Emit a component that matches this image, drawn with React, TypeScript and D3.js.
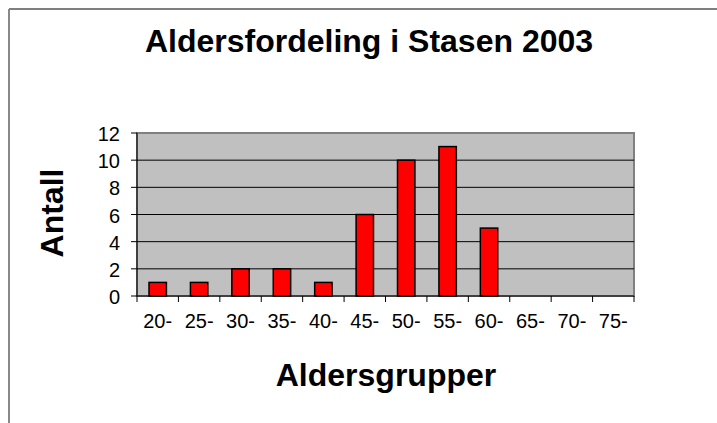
import React, { useEffect, useRef } from 'react';
import * as d3 from 'd3';

const categories = ['20-', '25-', '30-', '35-', '40-', '45-', '50-', '55-', '60-', '65-', '70-', '75-'];
const counts = [1, 1, 2, 2, 1, 6, 10, 11, 5, 0, 0, 0];
const yTicks = [0, 2, 4, 6, 8, 10, 12];

const title = 'Aldersfordeling i Stasen 2003';
const xTitle = 'Aldersgrupper';
const yTitle = 'Antall';

const App: React.FC = () => {
  const svgRef = useRef<SVGSVGElement | null>(null);

  useEffect(() => {
    if (!svgRef.current) return;
    const svg = d3.select(svgRef.current);
    svg.selectAll('*').remove();

    const width = 717;
    const height = 423;
    const plot = { left: 137, right: 634, top: 133, bottom: 296 };
    const font = 'Arial, "Liberation Sans", sans-serif';

    // outer chart frame (only top and left edges are visible)
    svg.append('line')
      .attr('x1', 9).attr('x2', width).attr('y1', 9).attr('y2', 9)
      .attr('stroke', '#555').attr('stroke-width', 1.5);
    svg.append('line')
      .attr('x1', 9).attr('x2', 9).attr('y1', 9).attr('y2', height)
      .attr('stroke', '#888').attr('stroke-width', 2);

    const x = d3.scaleBand<string>()
      .domain(categories)
      .range([plot.left, plot.right])
      .padding(0);

    const y = d3.scaleLinear()
      .domain([0, 12])
      .range([plot.bottom, plot.top]);

    // plot area
    svg.append('rect')
      .attr('x', plot.left).attr('y', plot.top)
      .attr('width', plot.right - plot.left).attr('height', plot.bottom - plot.top)
      .attr('fill', '#c0c0c0')
      .attr('stroke', '#808080').attr('stroke-width', 2);

    // gridlines
    svg.append('g')
      .selectAll('line')
      .data(yTicks.filter(d => d > 0 && d < 12))
      .enter().append('line')
      .attr('x1', plot.left).attr('x2', plot.right)
      .attr('y1', d => y(d)).attr('y2', d => y(d))
      .attr('stroke', '#000').attr('stroke-width', 1);

    // bars
    const barW = x.bandwidth() * 0.42;
    svg.append('g')
      .selectAll('rect')
      .data(counts.map((v, i) => ({ cat: categories[i], v })).filter(d => d.v > 0))
      .enter().append('rect')
      .attr('x', d => (x(d.cat) || 0) + (x.bandwidth() - barW) / 2)
      .attr('y', d => y(d.v))
      .attr('width', barW)
      .attr('height', d => y(0) - y(d.v))
      .attr('fill', '#ff0000')
      .attr('stroke', '#000')
      .attr('stroke-width', 1.5);

    // x axis
    const xAxis = svg.append('g');
    xAxis.append('line')
      .attr('x1', plot.left).attr('x2', plot.right)
      .attr('y1', plot.bottom).attr('y2', plot.bottom)
      .attr('stroke', '#000').attr('stroke-width', 1);
    const edges = [...categories.map(c => x(c) || 0), plot.right];
    xAxis.selectAll('line.tick')
      .data(edges)
      .enter().append('line')
      .attr('class', 'tick')
      .attr('x1', d => d).attr('x2', d => d)
      .attr('y1', plot.bottom).attr('y2', plot.bottom + 6)
      .attr('stroke', '#000');
    xAxis.selectAll('text')
      .data(categories)
      .enter().append('text')
      .attr('x', d => (x(d) || 0) + x.bandwidth() / 2)
      .attr('y', 328)
      .attr('text-anchor', 'middle')
      .attr('font-family', font)
      .attr('font-size', 20)
      .text(d => d);

    // y axis
    const yAxis = svg.append('g');
    yAxis.append('line')
      .attr('x1', plot.left).attr('x2', plot.left)
      .attr('y1', plot.top).attr('y2', plot.bottom)
      .attr('stroke', '#000').attr('stroke-width', 1);
    yAxis.selectAll('line.tick')
      .data(yTicks)
      .enter().append('line')
      .attr('class', 'tick')
      .attr('x1', plot.left - 6).attr('x2', plot.left)
      .attr('y1', d => y(d)).attr('y2', d => y(d))
      .attr('stroke', '#000');
    yAxis.selectAll('text')
      .data(yTicks)
      .enter().append('text')
      .attr('x', 120)
      .attr('y', d => y(d) + 8)
      .attr('text-anchor', 'end')
      .attr('font-family', font)
      .attr('font-size', 20)
      .text(d => d);

    // titles
    svg.append('text')
      .attr('x', 369).attr('y', 52)
      .attr('text-anchor', 'middle')
      .attr('font-family', font).attr('font-weight', 'bold').attr('font-size', 32)
      .text(title);

    svg.append('text')
      .attr('x', 386).attr('y', 386)
      .attr('text-anchor', 'middle')
      .attr('font-family', font).attr('font-weight', 'bold').attr('font-size', 32)
      .text(xTitle);

    svg.append('text')
      .attr('transform', 'translate(63,213) rotate(-90)')
      .attr('text-anchor', 'middle')
      .attr('font-family', font).attr('font-weight', 'bold').attr('font-size', 32)
      .text(yTitle);
  }, []);

  return (
    <svg
      ref={svgRef}
      width={717}
      height={423}
      style={{ position: 'absolute', left: 0, top: 0, background: '#fff' }}
    />
  );
};

export default App;
